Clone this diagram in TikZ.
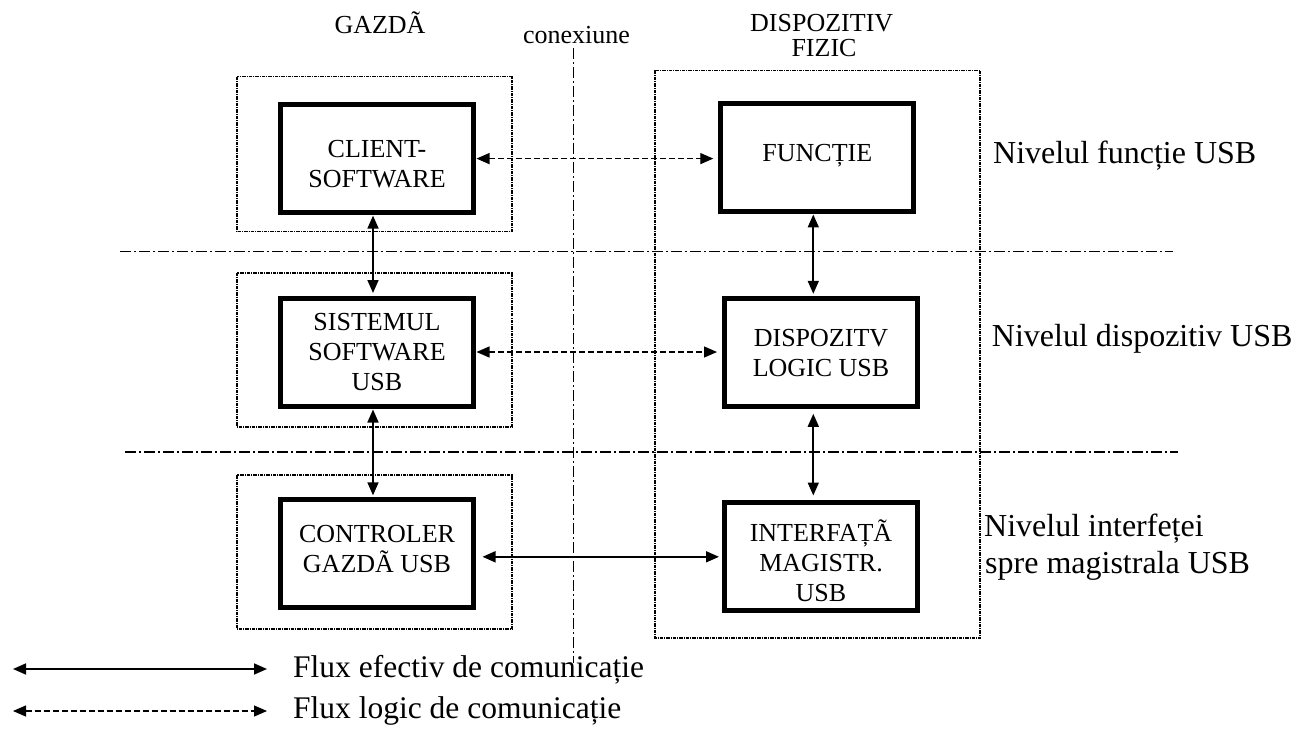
\documentclass[tikz,border=0pt]{standalone}
\usepackage{fontspec}
\setmainfont{Liberation Serif}
\usetikzlibrary{arrows.meta,calc}
\begin{document}
\begin{tikzpicture}[x=1pt,y=-1pt,
  blk/.style={draw, line width=5pt, minimum width=193pt, minimum height=108pt, inner sep=0pt},
  blktext/.style={align=center, inner sep=0pt, font=\fontsize{26}{30}\selectfont},
  grp/.style={draw, line width=1.6pt, dash pattern=on 3.5pt off 1pt on 1pt off 1pt},
  lvl/.style={line width=1.2pt, dash pattern=on 11pt off 3pt on 2pt off 3pt},
  realflow/.style={line width=1.7pt, {Triangle[length=13pt,width=11pt]}-{Triangle[length=13pt,width=11pt]}},
  logicflow/.style={line width=1.3pt, dash pattern=on 6pt off 3pt,
    {Triangle[length=13pt,width=11pt]}-{Triangle[length=13pt,width=11pt]}},
  hdr/.style={font=\fontsize{26}{30}\selectfont, inner sep=0pt, anchor=base},
  lbl/.style={font=\fontsize{32}{36}\selectfont, inner sep=0pt, anchor=base west},
  leg/.style={font=\fontsize{31.5}{36}\selectfont, inner sep=0pt, anchor=base west}]

\fill[white] (0,0) rectangle (1308,735);
\useasboundingbox (0,0) rectangle (1308,735);

% column headings
\node[hdr] (host) at (380,33.3) {GAZDÃ};
\node[hdr] (conn) at (576.5,43.3) {conexiune};
\node[hdr] (dev1) at (821.7,31.7) {DISPOZITIV};
\node[hdr] (dev2) at (824,56.7) {FIZIC};

% level separators and the connection line
\coordinate (l1a) at (120,251.5);  \coordinate (l1b) at (1173,251.5);
\coordinate (l2a) at (125,452);    \coordinate (l2b) at (1178,452);
\coordinate (cxa) at (573.3,48);   \coordinate (cxb) at (573.3,663);
\draw[lvl] (l1a) -- (l1b);
\draw[lvl] (l2a) -- (l2b);
\draw[lvl] (cxa) -- (cxb);

% grouping frames
\draw[grp] (236.7,76.7) rectangle (512,231.7);
\draw[grp] (236.7,272.7) rectangle (512,426.7);
\draw[grp] (236.7,475) rectangle (512,629);
\draw[grp] (655,70.5) rectangle (980,638);

% host side
\node[blk] (cs) at (377,158.6) {};
\node[blk] (ss) at (377,352) {};
\node[blk] (hc) at (377,553.8) {};
\node[blktext, yshift=-5pt] (cst) at (cs) {CLIENT-\\SOFTWARE};
\node[blktext] (sst) at (ss) {SISTEMUL\\SOFTWARE\\USB};
\node[blktext, yshift=5pt] (hct) at (hc) {CONTROLER\\GAZDÃ USB};

% device side
\node[blk] (fn) at (817.3,157.5) {};
\node[blk] (dl) at (821,352.8) {};
\node[blk] (ib) at (821,556) {};
\node[blktext, yshift=2pt] (fnt) at (fn) {FUNCȚIE};
\node[blktext] (dlt) at (dl) {DISPOZITV\\LOGIC USB};
\node[blktext, yshift=-5pt] (ibt) at (ib) {INTERFAȚÃ\\MAGISTR.\\USB};

% vertical flows
\draw[realflow, shorten <=0.5pt, shorten >=2.5pt] ([xshift=-4pt]cs.south) -- ([xshift=-4pt]ss.north);
\draw[realflow, shorten <=1pt, shorten >=2pt] ([xshift=-4pt]ss.south) -- ([xshift=-4pt]hc.north);
\draw[realflow, shorten <=0.5pt, shorten >=2.5pt] ([xshift=-4pt]fn.south) -- ([xshift=-4pt]fn.south |- dl.north);
\draw[realflow, shorten <=4.5pt, shorten >=4pt] ([xshift=-7.7pt]dl.south) -- ([xshift=-7.7pt]ib.north);

% horizontal flows
\draw[logicflow, shorten <=0.5pt, shorten >=5pt] (cs.east) -- (cs.east -| fn.west);
\draw[logicflow, shorten <=0.5pt, shorten >=5pt] (ss.east) -- (ss.east -| dl.west);
\draw[realflow, shorten <=6.5pt, shorten >=3pt] ([yshift=-3pt]hc.east) -- ([yshift=-3pt]hc.east -| ib.west);

% level names
\node[lbl] (n1) at (993,163.3) {Nivelul funcție USB};
\node[lbl] (n2) at (991.7,346.7) {Nivelul dispozitiv USB};
\node[lbl] (n3) at (984,536.7) {Nivelul interfeței};
\node[lbl] (n4) at (985,573.3) {spre magistrala USB};

% legend
\coordinate (ra) at (13,669);  \coordinate (rb) at (267,669);
\coordinate (ga) at (13,711);  \coordinate (gb) at (267,711);
\draw[realflow] (ra) -- (rb);
\draw[logicflow] (ga) -- (gb);
\node[leg] (t1) at (293,677) {Flux efectiv de comunicație};
\node[leg] (t2) at (293,718.5) {Flux logic de comunicație};
\end{tikzpicture}
\end{document}
